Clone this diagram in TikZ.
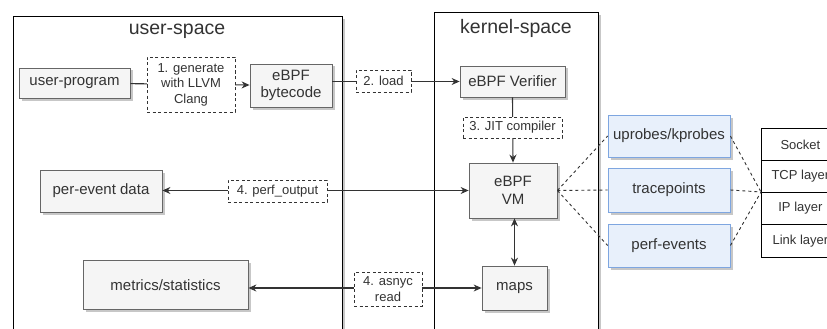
\documentclass[tikz,border=0pt]{standalone}
\usepackage{fontspec}
\setmainfont{Liberation Sans}
\usetikzlibrary{arrows.meta,shadows}

\definecolor{boxfill}{HTML}{F5F5F5}
\definecolor{boxline}{HTML}{666666}
\definecolor{ink}{HTML}{333333}
\definecolor{probefill}{HTML}{E8F0FB}
\definecolor{probeline}{HTML}{7EA6E0}

\begin{document}
\begin{tikzpicture}[x=1pt,y=-1pt,
  every node/.style={inner sep=0pt, text=ink},
  shadowed/.style={drop shadow={shadow xshift=2.5pt,shadow yshift=-2.5pt,fill=black,opacity=0.22}},
  boxtext/.style={font=\fontsize{15}{17.5}\selectfont, align=center},
  graybox/.style={draw=boxline, fill=boxfill, line width=0.8pt, shadowed, boxtext},
  probe/.style={draw=probeline, fill=probefill, line width=0.8pt, shadowed, boxtext, minimum width=122pt},
  steplabel/.style={draw=ink, fill=white, dash pattern=on 3pt off 2.5pt, line width=0.8pt,
    font=\fontsize{13}{15.5}\selectfont, align=center},
  tip/.style={Stealth[length=8pt,width=7pt]},
  flow/.style={draw=ink, line width=1.1pt, -{Stealth[length=8pt,width=7pt]}},
  bothflow/.style={draw=ink, line width=1.1pt, {Stealth[length=8pt,width=7pt]}-{Stealth[length=8pt,width=7pt]}},
  probelink/.style={draw=ink, line width=0.9pt, dash pattern=on 3pt off 3pt},
  container/.style={draw=black, line width=1pt, fill=white, shadowed, anchor=north west},
  title/.style={font=\fontsize{19.5}{22}\selectfont},
  layercell/.style={draw=black, line width=0.8pt, fill=white, minimum width=78pt,
    minimum height=32pt, anchor=north west, font=\fontsize{13}{15.5}\selectfont}
]
\useasboundingbox (0,0) rectangle (827,329);
\clip (0,0) rectangle (827,329);
\fill[white] (0,0) rectangle (827,329);

% the two address spaces
\node[container, minimum width=329pt, minimum height=340pt] (userspace) at (13,16) {};
\node[title] (usertitle) at (177,31) {user-space};
\node[container, minimum width=164pt, minimum height=345pt] (kernelspace) at (434,12) {};
\node[title] (kerneltitle) at (516,28) {kernel-space};

% user-space boxes
\node[graybox, minimum width=111pt, minimum height=30pt] (userprog) at (74.5,83) {user-program};
\node[graybox, minimum width=82pt, minimum height=43pt] (bytecode) at (291,85.5) {eBPF\\bytecode};
\node[graybox, minimum width=122pt, minimum height=42pt] (perevent) at (101,191) {per-event data};
\node[graybox, minimum width=165pt, minimum height=49pt] (metrics) at (165.5,285) {metrics/statistics};

% kernel-space boxes
\node[graybox, minimum width=105pt, minimum height=31pt] (verifier) at (512.5,81.5) {eBPF Verifier};
\node[graybox, minimum width=88pt, minimum height=55pt] (vm) at (513,190.5) {eBPF\\VM};
\node[graybox, minimum width=65pt, minimum height=44pt] (maps) at (514.5,288) {maps};

% event sources
\node[probe, minimum height=42pt] (uprobes) at (669,136) {uprobes/kprobes};
\node[probe, minimum height=44pt] (tracepoints) at (669,190) {tracepoints};
\node[probe, minimum height=43pt] (perfevents) at (669,245.5) {perf-events};

% network stack layers
\node[layercell] (socket) at (761,128) {Socket};
\node[layercell] (tcp) at (761,160) {TCP layer};
\node[layercell] (ip) at (761,192) {IP layer};
\node[layercell, minimum height=33pt] (link) at (761,224) {Link layer};
\coordinate (hub) at (ip.north west);

% data flow
\draw[flow] (userprog) -- (bytecode);
\draw[flow] (bytecode.east |- verifier.west) -- (verifier.west);
\draw[flow] (verifier.south) -- (vm.north);
\draw[bothflow] (vm.west) -- (vm.west -| perevent.east);
\draw[bothflow] (maps.north |- vm.south) -- (maps.north);
\draw[bothflow] (maps.west) -- (maps.west -| metrics.east);

% attachment of the VM to the event sources
\draw[probelink] (vm.east) -- (uprobes.west);
\draw[probelink] (vm.east) -- (tracepoints.west);
\draw[probelink] (vm.east) -- (perfevents.west);
\draw[probelink] (uprobes.east) -- (hub);
\draw[probelink] (tracepoints.east) -- (hub);
\draw[probelink] (perfevents.east) -- (hub);

% step labels sitting on the connectors
\node[steplabel, minimum width=88pt, minimum height=55pt] (genlabel) at (191,84.5) {1. generate\\with LLVM\\Clang};
\node[steplabel, minimum width=55pt, minimum height=22pt] (loadlabel) at (383.5,81) {2. load};
\node[steplabel, minimum width=99pt, minimum height=21pt] (jitlabel) at (512.5,127.5) {3. JIT compiler};
\node[steplabel, minimum width=99pt, minimum height=22pt] (perflabel) at (277.5,191) {4. perf\_output};
\node[steplabel, minimum width=68pt, minimum height=34pt] (asynclabel) at (388,289) {4. asnyc\\read};
\end{tikzpicture}
\end{document}
